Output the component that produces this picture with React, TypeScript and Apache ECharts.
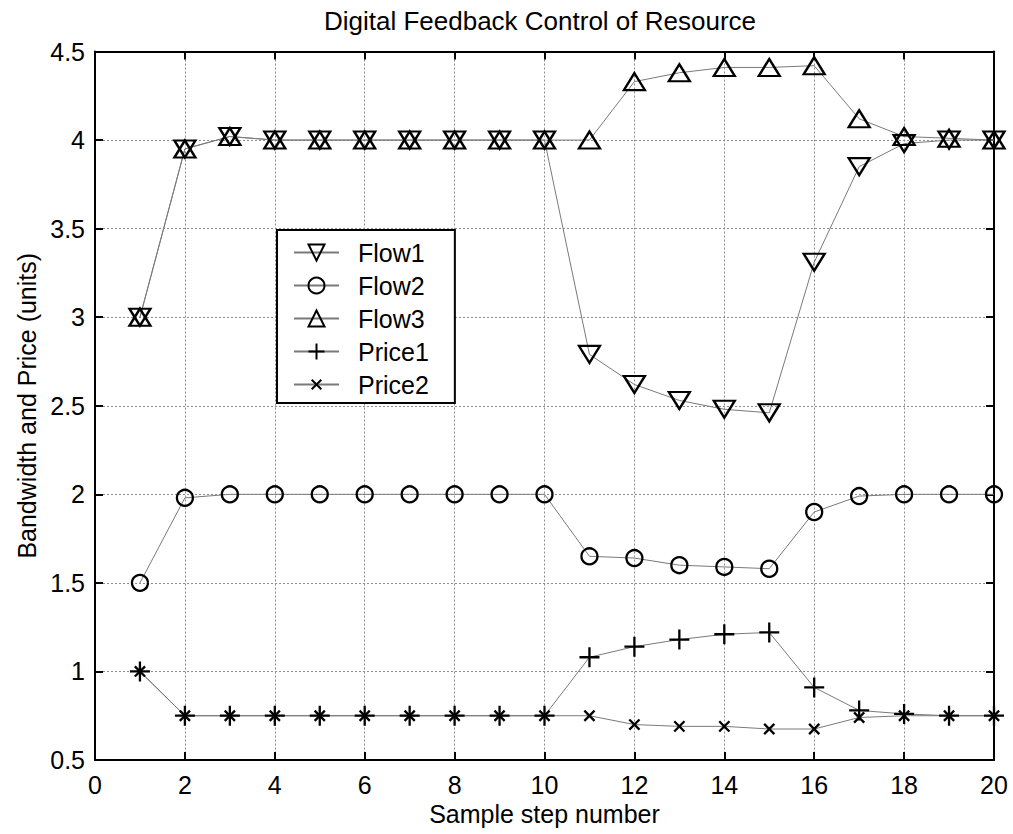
import React, { useEffect, useRef } from "react";
import * as echarts from "echarts";

// Sample steps on the x axis
const steps = [1, 2, 3, 4, 5, 6, 7, 8, 9, 10, 11, 12, 13, 14, 15, 16, 17, 18, 19, 20];

// Bandwidth of each flow and the resource prices per step
const flow1 = [3.0, 3.95, 4.02, 4.0, 4.0, 4.0, 4.0, 4.0, 4.0, 4.0, 2.79, 2.62, 2.53, 2.48, 2.46, 3.31, 3.85, 3.98, 4.0, 4.0];
const flow2 = [1.5, 1.98, 2.0, 2.0, 2.0, 2.0, 2.0, 2.0, 2.0, 2.0, 1.65, 1.64, 1.6, 1.59, 1.58, 1.9, 1.99, 2.0, 2.0, 2.0];
const flow3 = [3.0, 3.95, 4.02, 4.0, 4.0, 4.0, 4.0, 4.0, 4.0, 4.0, 4.0, 4.33, 4.38, 4.41, 4.41, 4.42, 4.12, 4.02, 4.01, 4.0];
const price1 = [1.0, 0.75, 0.75, 0.75, 0.75, 0.75, 0.75, 0.75, 0.75, 0.75, 1.08, 1.14, 1.18, 1.21, 1.22, 0.91, 0.78, 0.76, 0.75, 0.75];
const price2 = [1.0, 0.75, 0.75, 0.75, 0.75, 0.75, 0.75, 0.75, 0.75, 0.75, 0.75, 0.7, 0.69, 0.69, 0.675, 0.675, 0.74, 0.75, 0.75, 0.75];

const seriesNames = ["Flow1", "Flow2", "Flow3", "Price1", "Price2"];

const FONT = "'Liberation Sans', Arial, Helvetica, sans-serif";
const PLUS = "path://M0,10L20,10M10,0L10,20";
// padded with empty move-to points so the cross sits smaller inside its box
const CROSS = "path://M0,0M20,20M4,4L16,16M16,4L4,16";

const toPoints = (ys: number[]) => steps.map((x, i) => [x, ys[i]]);

export default function App() {
  const ref = useRef<HTMLDivElement>(null);

  useEffect(() => {
    document.body.style.margin = "0";
    const chart = echarts.init(ref.current!, null, { renderer: "svg" });

    const marker = { color: "transparent", borderColor: "#000", borderWidth: 2.3 };
    const link = { color: "#7a7a7a", width: 1 };
    const makeSeries = (
      name: string,
      ys: number[],
      symbol: string,
      size: number | number[],
      rotate = 0
    ) => ({
      name,
      type: "line",
      data: toPoints(ys),
      symbol,
      symbolSize: size,
      symbolRotate: rotate,
      showSymbol: true,
      itemStyle: marker,
      lineStyle: link,
      emphasis: { disabled: true },
      silent: true,
      z: 3,
    });

    const edgeLine = { onZero: false, lineStyle: { color: "#000", width: 2 } };
    const tick = { inside: true, length: 8, lineStyle: { color: "#000", width: 2 } };
    const grid = { show: true, lineStyle: { color: "#8c8c8c", type: [2, 2], width: 1 } };
    const label = { color: "#000", fontSize: 25, fontFamily: FONT };

    chart.setOption({
      animation: false,
      backgroundColor: "#fff",
      title: {
        text: "Digital Feedback Control of Resource",
        left: 540,
        top: 8,
        padding: 0,
        textAlign: "center",
        textStyle: { fontSize: 26, fontWeight: "normal", color: "#000", fontFamily: FONT },
      },
      grid: { left: 95, right: 19, top: 51.5, bottom: 74, outerBoundsMode: "none" },
      legend: {
        orient: "vertical",
        left: 277,
        top: 230,
        itemWidth: 45,
        itemHeight: 20,
        itemGap: 8,
        padding: [10, 26, 6, 16],
        backgroundColor: "#fff",
        borderColor: "#000",
        borderWidth: 2,
        borderRadius: 0,
        selectedMode: false,
        symbolRotate: "inherit",
        textStyle: { fontSize: 25, color: "#000", fontFamily: FONT, padding: [0, 0, 0, 14] },
        data: seriesNames,
      },
      xAxis: [
        {
          type: "value",
          min: 0,
          max: 20,
          interval: 2,
          position: "bottom",
          axisLine: edgeLine,
          axisTick: tick,
          axisLabel: { ...label, margin: 12 },
          splitLine: grid,
          name: "Sample step number",
          nameLocation: "middle",
          nameGap: 34,
          nameTextStyle: { ...label },
        },
        {
          type: "value",
          min: 0,
          max: 20,
          interval: 2,
          position: "top",
          axisLine: edgeLine,
          axisTick: tick,
          axisLabel: { show: false },
          splitLine: { show: false },
        },
      ],
      yAxis: [
        {
          type: "value",
          min: 0.5,
          max: 4.5,
          interval: 0.5,
          position: "left",
          axisLine: edgeLine,
          axisTick: tick,
          axisLabel: { ...label, margin: 10 },
          splitLine: grid,
          name: "Bandwidth and Price (units)",
          nameLocation: "middle",
          nameGap: 44,
          nameTextStyle: { ...label },
        },
        {
          type: "value",
          min: 0.5,
          max: 4.5,
          interval: 0.5,
          position: "right",
          axisLine: edgeLine,
          axisTick: tick,
          axisLabel: { show: false },
          splitLine: { show: false },
        },
      ],
      series: [
        makeSeries(seriesNames[0], flow1, "triangle", [21, 17], 180),
        makeSeries(seriesNames[1], flow2, "circle", 16),
        makeSeries(seriesNames[2], flow3, "triangle", [21, 17]),
        makeSeries(seriesNames[3], price1, PLUS, 20),
        makeSeries(seriesNames[4], price2, CROSS, 17),
      ],
    });

    return () => chart.dispose();
  }, []);

  return (
    <div
      ref={ref}
      style={{ position: "fixed", left: 0, top: 0, width: 1013, height: 834 }}
    />
  );
}
